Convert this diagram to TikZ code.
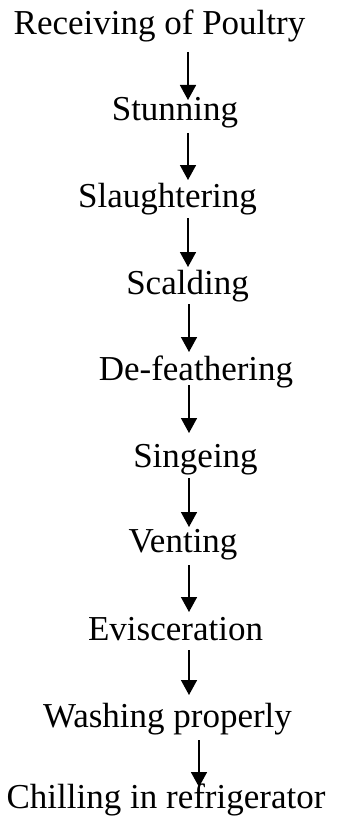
\documentclass[tikz,border=0pt]{standalone}
\usepackage{fontspec}
\setmainfont{Liberation Serif}
\usetikzlibrary{arrows.meta}
\begin{document}
\begin{tikzpicture}[x=1pt,y=-1pt,
  lbl/.style={anchor=base,inner sep=0pt,font=\fontsize{35}{37}\selectfont},
  arr/.style={line width=1.6pt,-{Triangle[length=15pt,width=16pt]}}]
\useasboundingbox (0,0) rectangle (339,824);
\node[lbl] (n1) at (159.5,35) {Receiving of Poultry};
\node[lbl] (n2) at (175,121) {Stunning};
\node[lbl] (n3) at (167.5,207) {Slaughtering};
\node[lbl] (n4) at (187.5,294) {Scalding};
\node[lbl] (n5) at (196,380) {De-feathering};
\node[lbl] (n6) at (195.5,467) {Singeing};
\node[lbl] (n7) at (183,552) {Venting};
\node[lbl] (n8) at (175.5,640) {Evisceration};
\node[lbl] (n9) at (167.5,727) {Washing properly};
\node[lbl] (n10) at (166,808) {Chilling in refrigerator};
\coordinate (a1) at (188,52);  \coordinate (b1) at (188,100);
\coordinate (a2) at (188,133); \coordinate (b2) at (188,180);
\coordinate (a3) at (188,218); \coordinate (b3) at (188,267);
\coordinate (a4) at (189,304); \coordinate (b4) at (189,352);
\coordinate (a5) at (189,385); \coordinate (b5) at (189,433);
\coordinate (a6) at (189,478); \coordinate (b6) at (189,527);
\coordinate (a7) at (189,565); \coordinate (b7) at (189,612);
\coordinate (a8) at (189,650); \coordinate (b8) at (189,695);
\coordinate (a9) at (199,740); \coordinate (b9) at (199,787);
\draw[arr] (a1) -- (b1);
\draw[arr] (a2) -- (b2);
\draw[arr] (a3) -- (b3);
\draw[arr] (a4) -- (b4);
\draw[arr] (a5) -- (b5);
\draw[arr] (a6) -- (b6);
\draw[arr] (a7) -- (b7);
\draw[arr] (a8) -- (b8);
\draw[arr] (a9) -- (b9);
\end{tikzpicture}
\end{document}
